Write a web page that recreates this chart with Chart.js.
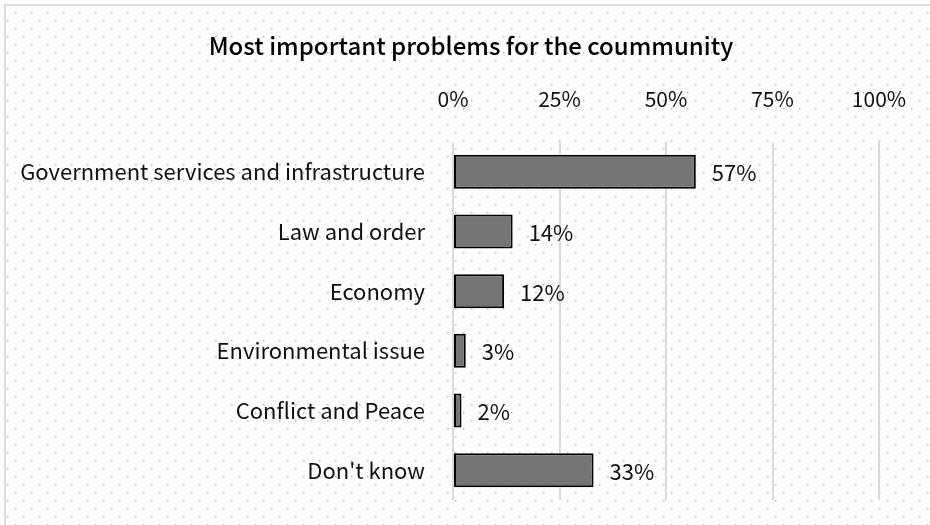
<!DOCTYPE html>
<html>
<head>
<meta charset="utf-8">
<script src="https://cdn.jsdelivr.net/npm/chart.js@4"></script>
<style>
  html, body { margin: 0; padding: 0; background: #fff; }
  canvas { display: block; }
</style>
</head>
<body>
<canvas id="problems" width="930" height="525"></canvas>
<script>
const categories = [
  'Government services and infrastructure',
  'Law and order',
  'Economy',
  'Environmental issue',
  'Conflict and Peace',
  "Don't know"
];
const shares = [57, 14, 12, 3, 2, 33];
const tickValues = [0, 25, 50, 75, 100];
const chartTitle = 'Most important problems for the coummunity';

const FONT = "'Noto Sans CJK SC', 'Noto Sans', sans-serif";

// dotted paper background plus the thin frame on top/left
const paperBg = {
  id: 'paperBg',
  beforeDraw(chart) {
    const ctx = chart.ctx;
    const w = chart.width, h = chart.height;
    ctx.save();
    ctx.fillStyle = '#fff';
    ctx.fillRect(0, 0, w, h);
    ctx.fillStyle = '#b4b4b4';
    let row = 0;
    for (let y = 12; y < h; y += 8, row++) {
      const start = row % 2 === 0 ? 15 : 7;
      for (let x = start; x < w; x += 16) {
        ctx.fillRect(x, y, 1.5, 1.5);
      }
    }
    ctx.strokeStyle = '#d0d0d0';
    ctx.lineWidth = 1.5;
    ctx.beginPath();
    ctx.moveTo(5, h);
    ctx.lineTo(5, 5);
    ctx.lineTo(w, 5);
    ctx.stroke();
    ctx.restore();
  }
};

// title sits centred over the whole figure, a bit right of the canvas middle
const figureTitle = {
  id: 'figureTitle',
  afterDraw(chart) {
    const ctx = chart.ctx;
    ctx.save();
    ctx.font = '500 24px ' + FONT;
    ctx.fillStyle = '#000';
    ctx.textAlign = 'center';
    ctx.textBaseline = 'middle';
    ctx.fillText(chartTitle, 471, 46);
    ctx.restore();
  }
};

// percentage next to each bar end
const barValues = {
  id: 'barValues',
  afterDatasetsDraw(chart) {
    const ctx = chart.ctx;
    const meta = chart.getDatasetMeta(0);
    ctx.save();
    ctx.font = '22px ' + FONT;
    ctx.fillStyle = '#111';
    ctx.textAlign = 'left';
    ctx.textBaseline = 'middle';
    meta.data.forEach((bar, i) => {
      ctx.fillText(shares[i] + '%', bar.x + 16, bar.y + 1);
    });
    ctx.restore();
  }
};

new Chart(document.getElementById('problems'), {
  type: 'bar',
  data: {
    labels: categories,
    datasets: [{
      data: shares,
      backgroundColor: '#757575',
      borderColor: '#000',
      borderWidth: 2,
      borderSkipped: false,
      barPercentage: 0.57,
      categoryPercentage: 1
    }]
  },
  options: {
    indexAxis: 'y',
    responsive: false,
    animation: false,
    layout: { padding: { top: 89.4, left: 0, right: 51, bottom: 25 } },
    plugins: {
      legend: { display: false },
      tooltip: { enabled: false },
      title: { display: false }
    },
    scales: {
      x: {
        position: 'top',
        min: 0,
        max: 100,
        afterBuildTicks(scale) {
          scale.ticks = tickValues.map(v => ({ value: v }));
        },
        afterFit(scale) {
          scale.height = 52.6;
          scale.paddingLeft = 0;
          scale.paddingRight = 0;
        },
        ticks: {
          padding: 30,
          color: '#111',
          font: { family: FONT, size: 21 },
          callback: v => v + '%'
        },
        grid: { color: '#d9d9d9', lineWidth: 2, drawTicks: false },
        border: { display: false }
      },
      y: {
        afterFit(scale) {
          scale.width = 453;
          scale.paddingTop = 0;
          scale.paddingBottom = 0;
        },
        ticks: {
          padding: 28,
          color: '#111',
          font: { family: FONT, size: 22 }
        },
        grid: { display: false, drawTicks: false },
        border: { display: false }
      }
    }
  },
  plugins: [paperBg, figureTitle, barValues]
});
</script>
</body>
</html>
